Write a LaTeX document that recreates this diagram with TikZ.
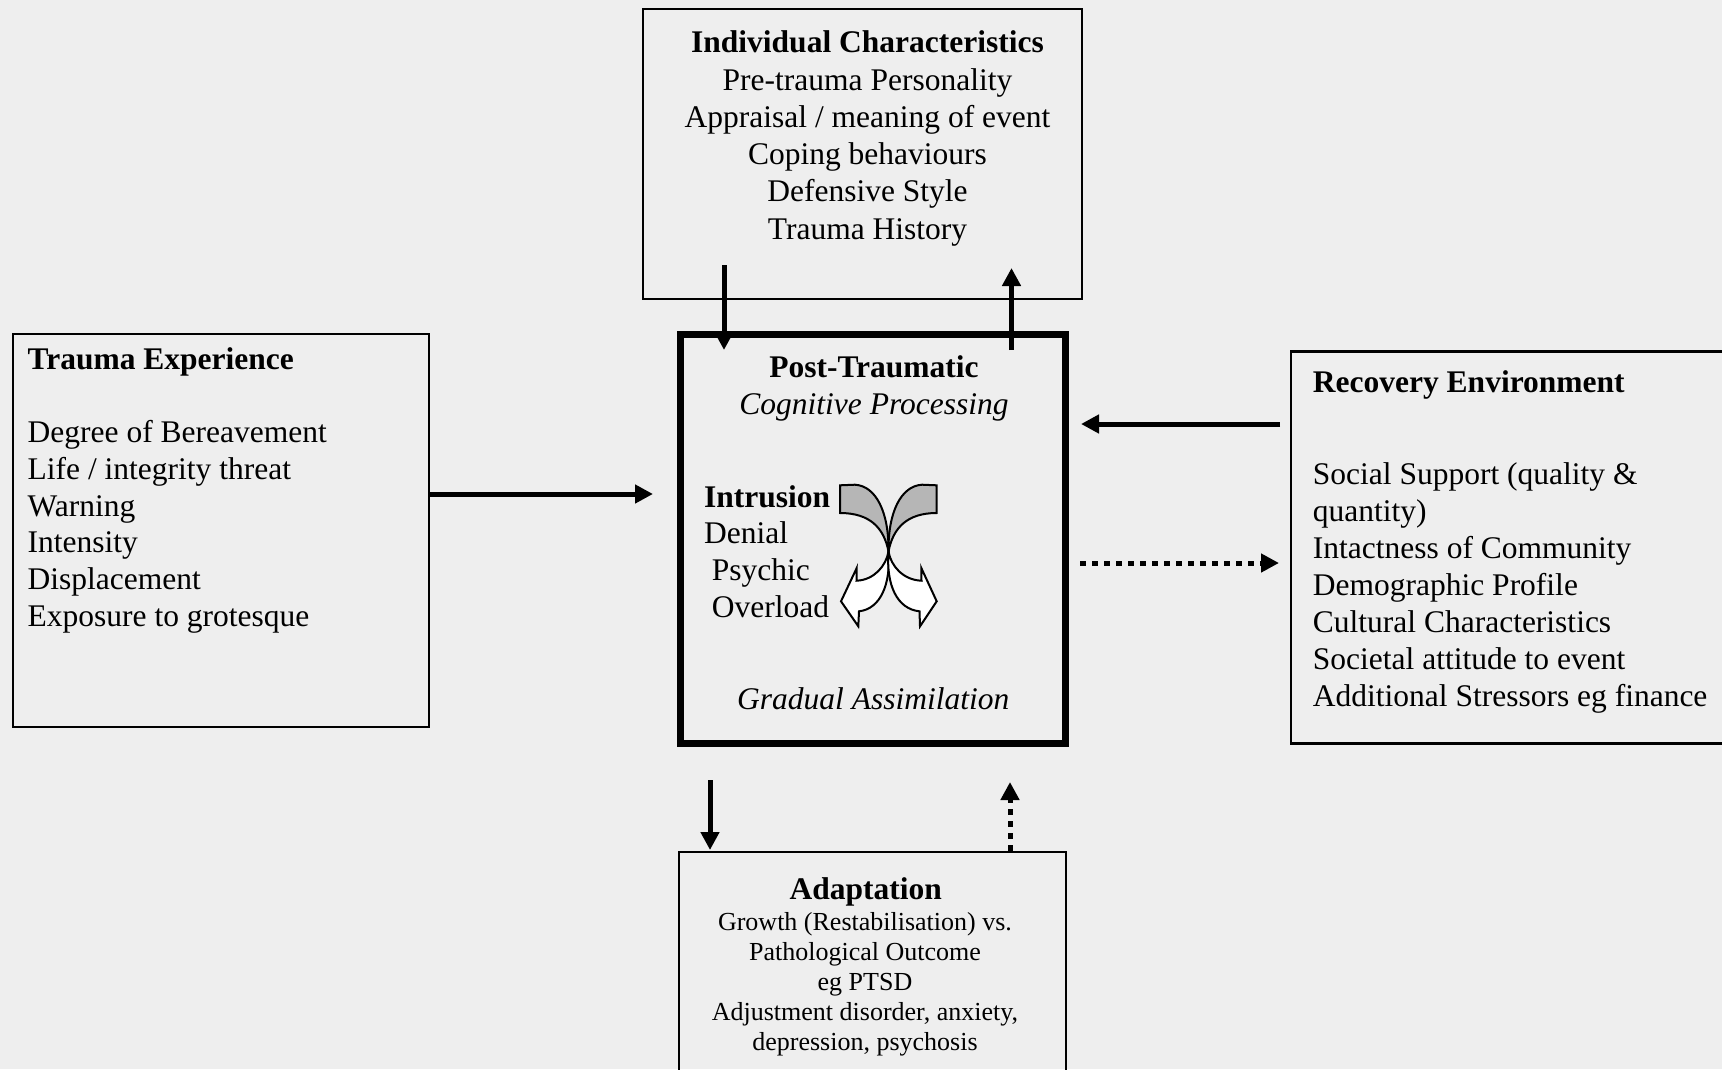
\documentclass[tikz,border=0pt]{standalone}
\usepackage{fontspec}
\setmainfont{Liberation Serif}
\usetikzlibrary{arrows.meta}
\definecolor{bg}{RGB}{238,238,238}
\definecolor{shadegrey}{RGB}{182,182,182}
\begin{document}
\begin{tikzpicture}[x=1pt,y=-1pt,
  box/.style={draw=black, line width=2.2pt, inner sep=0pt},
  thickbox/.style={draw=black, line width=6.5pt, inner sep=0pt},
  txt/.style={inner sep=0pt, font=\fontsize{31.5}{36.7}\selectfont},
  smalltxt/.style={inner sep=0pt, font=\fontsize{26}{30}\selectfont},
  arr/.style={line width=5pt, -{Triangle[length=18pt,width=18pt]}},
  dotarr/.style={line width=5pt, dash pattern=on 6pt off 6pt, -{Triangle[length=18pt,width=18pt]}},
  crossarrow/.style={draw=black, line width=2pt, line join=miter},
]
\useasboundingbox (0,0) rectangle (1722,1069);
\fill[bg] (0,0) rectangle (1722,1069);

% ---------- boxes ----------
\node[box, minimum width=416pt, minimum height=393pt] (trauma) at (221,530.5) {};
\node[box, minimum width=439pt, minimum height=290pt] (indiv) at (862.5,154) {};
\node[thickbox, minimum width=384.6pt, minimum height=409pt] (central) at (873,538.8) {};
\node[box, minimum width=440pt, minimum height=392pt] (recov) at (1511,547.5) {};
\node[box, minimum width=387pt, minimum height=230pt] (adapt) at (872.5,967) {};

% ---------- texts ----------
\node[txt, anchor=base] (indivtext) at (867.5,52.7) {\fontsize{31.5}{37.3}\selectfont
  \begin{tabular}[t]{@{}c@{}}\textbf{Individual Characteristics}\\
  Pre-trauma Personality\\ Appraisal / meaning of event\\ Coping behaviours\\
  Defensive Style\\ Trauma History\end{tabular}};

\node[txt, anchor=base west] (traumatext) at (27.5,369.3) {\begin{tabular}[t]{@{}l@{}}
  \textbf{Trauma Experience}\\ \\ Degree of Bereavement\\ Life / integrity threat\\
  Warning\\ Intensity\\ Displacement\\ Exposure to grotesque\end{tabular}};

\node[txt, anchor=base] (ptitle) at (874,377.5) {\textbf{Post-Traumatic}};
\node[txt, anchor=base] (psub) at (874,414) {\textit{Cognitive Processing}};
\node[txt, anchor=base west] (plist) at (704,507) {\begin{tabular}[t]{@{}l@{}}
  \textbf{Intrusion}\\ Denial\\ \hspace*{7.7pt}Psychic\\ \hspace*{7.7pt}Overload\end{tabular}};
\node[txt, anchor=base] (pbottom) at (873.3,709.5) {\textit{Gradual Assimilation}};

\node[txt, anchor=base west] (rtitle) at (1312.7,392) {\textbf{Recovery Environment}};
\node[txt, anchor=base west] (rlist) at (1312.7,484) {\fontsize{31.5}{37}\selectfont
  \begin{tabular}[t]{@{}l@{}}Social Support (quality \&\\ quantity)\\ Intactness of Community\\
  Demographic Profile\\ Cultural Characteristics\\ Societal attitude to event\\
  Additional Stressors eg finance\end{tabular}};

\node[txt, anchor=base] (atitle) at (865.8,899) {\textbf{Adaptation}};
\node[smalltxt, anchor=base] (alist) at (865,930) {\begin{tabular}[t]{@{}c@{}}
  Growth (Restabilisation) vs.\\ Pathological Outcome\\ eg PTSD\\
  Adjustment disorder, anxiety,\\ depression, psychosis\end{tabular}};

% ---------- crossed arrows graphic ----------
\coordinate (cx) at (888.5,551.5);
% lower (white) arrows
\filldraw[crossarrow, fill=white] (cx) .. controls (886,566) and (874,580) .. (856.5,580.7)
  -- (856.7,568) -- (841,601.3) -- (858.3,626.3) -- (859,611.3)
  .. controls (880,609) and (891,585) .. (cx) -- cycle;
\filldraw[crossarrow, fill=white] (cx) .. controls (891,566) and (903,580) .. (921.5,580.7)
  -- (921.3,568) -- (936.7,601.3) -- (920,626.3) -- (919.5,611.3)
  .. controls (897,609) and (886,585) .. (cx) -- cycle;
% upper (grey) tails
\filldraw[crossarrow, fill=shadegrey] (840,485.3) -- (855,484.7)
  .. controls (876,486) and (889,512) .. (cx)
  .. controls (884,528) and (870,513) .. (840,513) -- cycle;
\filldraw[crossarrow, fill=shadegrey] (936.7,485.3) -- (922,484.7)
  .. controls (901,486) and (888,512) .. (cx)
  .. controls (893,528) and (907,513) .. (936.7,513) -- cycle;

% ---------- connectors ----------
\coordinate (tA) at (653,494);
\draw[arr] (trauma.east |- tA) -- (tA);

\coordinate (iS) at (724,265);
\coordinate (iE) at (724,350);
\draw[arr] (iS) -- (iE);

\coordinate (uS) at (1011.5,350);
\coordinate (uE) at (1011.5,268);
\draw[arr] (uS) -- (uE);

\coordinate (rS) at (1280,424);
\coordinate (rE) at (1081,424);
\draw[arr] (rS) -- (rE);

\coordinate (dS) at (1080,563);
\coordinate (dE) at (1279,563);
\draw[dotarr] (dS) -- (dE);

\coordinate (aS) at (710,780);
\coordinate (aE) at (710,850);
\draw[arr] (aS) -- (aE);

\coordinate (bE) at (1010,782);
\draw[dotarr] (adapt.north -| bE) -- (bE);
\end{tikzpicture}
\end{document}
